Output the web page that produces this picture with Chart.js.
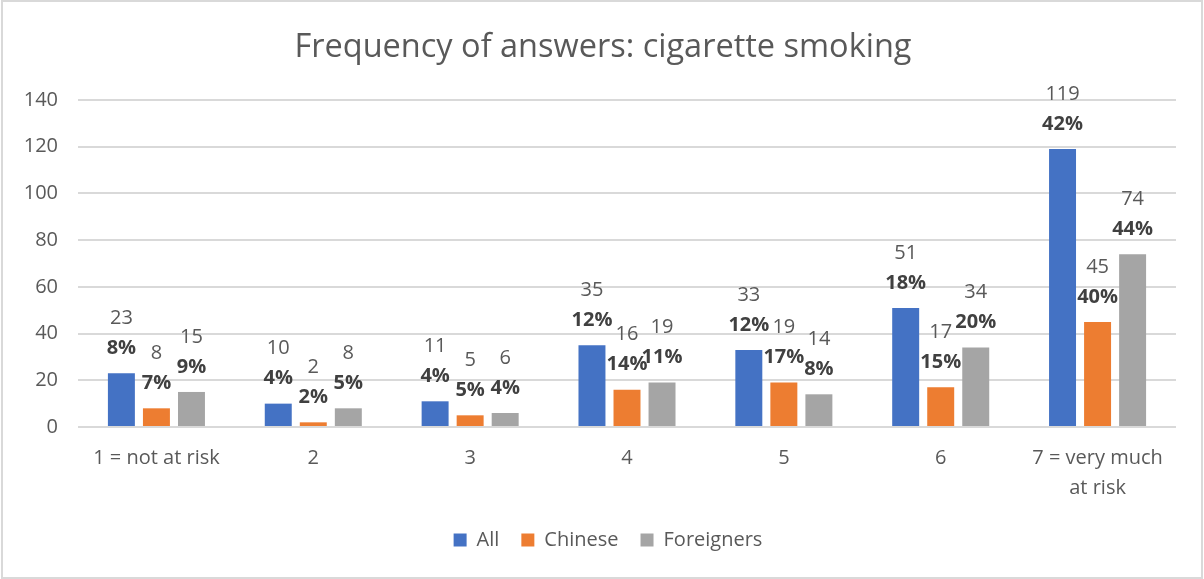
<!DOCTYPE html>
<html>
<head>
<meta charset="utf-8">
<script src="https://cdn.jsdelivr.net/npm/chart.js@4/dist/chart.umd.min.js"></script>
<style>
  html, body { margin: 0; padding: 0; background: #fff; }
  #wrap { position: relative; width: 1204px; height: 579px; }
</style>
</head>
<body>
<div id="wrap"><canvas id="smokingChart" width="1204" height="579"></canvas></div>
<script>
// Risk scale answers
const categories = ['1 = not at risk', '2', '3', '4', '5', '6', ['7 = very much', 'at risk']];

// Counts per group
const allCounts = [23, 10, 11, 35, 33, 51, 119];
const chineseCounts = [8, 2, 5, 16, 19, 17, 45];
const foreignCounts = [15, 8, 6, 19, 14, 34, 74];

// Share of each group's answers (%)
const allPct = [8, 4, 4, 12, 12, 18, 42];
const chinesePct = [7, 2, 5, 14, 17, 15, 40];
const foreignPct = [9, 5, 4, 11, 8, 20, 44];

const yTicks = [0, 20, 40, 60, 80, 100, 120, 140];

const textGray = '#595959';
const fontFamily = "'Open Sans', sans-serif";

// Outer frame + white background
const framePlugin = {
    id: 'frame',
    beforeDraw(chart) {
        const ctx = chart.ctx;
        ctx.save();
        ctx.fillStyle = '#fff';
        ctx.fillRect(0, 0, chart.width, chart.height);
        ctx.strokeStyle = '#D9D9D9';
        ctx.lineWidth = 2;
        ctx.strokeRect(2, 1, chart.width - 4, chart.height - 2);
        ctx.restore();
    }
};

// title and legend are centred on the full width, not on the padded area
const recenter = {
    id: 'recenter',
    afterLayout(chart) {
        [chart.legend, chart.titleBlock].forEach(box => {
            if (box) {
                box.left += 15;
                box.right += 15;
            }
        });
        if (chart.legend) {
            chart.legend.left += 5;
            chart.legend.right += 5;
        }
    }
};

// Count on top, bold percentage below it, above each bar
const barLabels = {
    id: 'barLabels',
    afterDatasetsDraw(chart) {
        const ctx = chart.ctx;
        ctx.save();
        ctx.textAlign = 'center';
        ctx.textBaseline = 'middle';
        chart.data.datasets.forEach((ds, di) => {
            const meta = chart.getDatasetMeta(di);
            meta.data.forEach((bar, i) => {
                ctx.font = 'bold 20px ' + fontFamily;
                ctx.fillStyle = '#404040';
                ctx.fillText(ds.pct[i] + '%', bar.x, bar.y - 25);
                ctx.font = '20px ' + fontFamily;
                ctx.fillStyle = textGray;
                ctx.fillText(String(ds.data[i]), bar.x, bar.y - 55);
            });
        });
        ctx.restore();
    }
};

const ctx = document.getElementById('smokingChart').getContext('2d');
new Chart(ctx, {
    type: 'bar',
    data: {
        labels: categories,
        datasets: [
            { label: 'All', data: allCounts, pct: allPct, backgroundColor: '#4472C4' },
            { label: 'Chinese', data: chineseCounts, pct: chinesePct, backgroundColor: '#ED7D31' },
            { label: 'Foreigners', data: foreignCounts, pct: foreignPct, backgroundColor: '#A5A5A5' }
        ]
    },
    options: {
        responsive: false,
        animation: false,
        datasets: { bar: { categoryPercentage: 0.67, barPercentage: 0.77 } },
        layout: { padding: { left: 0, right: 28, top: 0, bottom: 19 } },
        plugins: {
            title: {
                display: true,
                text: 'Frequency of answers: cigarette smoking',
                color: textGray,
                font: { family: fontFamily, size: 32.5, weight: 'normal' },
                padding: { top: 28, bottom: 33 }
            },
            legend: {
                position: 'bottom',
                labels: {
                    color: textGray,
                    font: { family: fontFamily, size: 20 },
                    boxWidth: 13,
                    boxHeight: 13,
                    padding: 22
                }
            },
            tooltip: { enabled: false }
        },
        scales: {
            x: {
                grid: { display: false },
                border: { display: false },
                afterFit(axis) {
                    axis.height -= 3;
                },
                ticks: {
                    color: textGray,
                    font: { family: fontFamily, size: 20, lineHeight: 1.5 },
                    padding: 8,
                    maxRotation: 0,
                    autoSkip: false
                }
            },
            y: {
                min: yTicks[0],
                max: yTicks[yTicks.length - 1],
                afterBuildTicks(axis) {
                    axis.ticks = yTicks.map(v => ({ value: v }));
                },
                afterFit(axis) {
                    axis.width = 78;
                },
                grid: { color: '#D9D9D9', lineWidth: 2, drawTicks: false },
                border: { display: false },
                ticks: {
                    color: textGray,
                    font: { family: fontFamily, size: 20 },
                    padding: 20
                }
            }
        }
    },
    plugins: [framePlugin, recenter, barLabels]
});
</script>
</body>
</html>
